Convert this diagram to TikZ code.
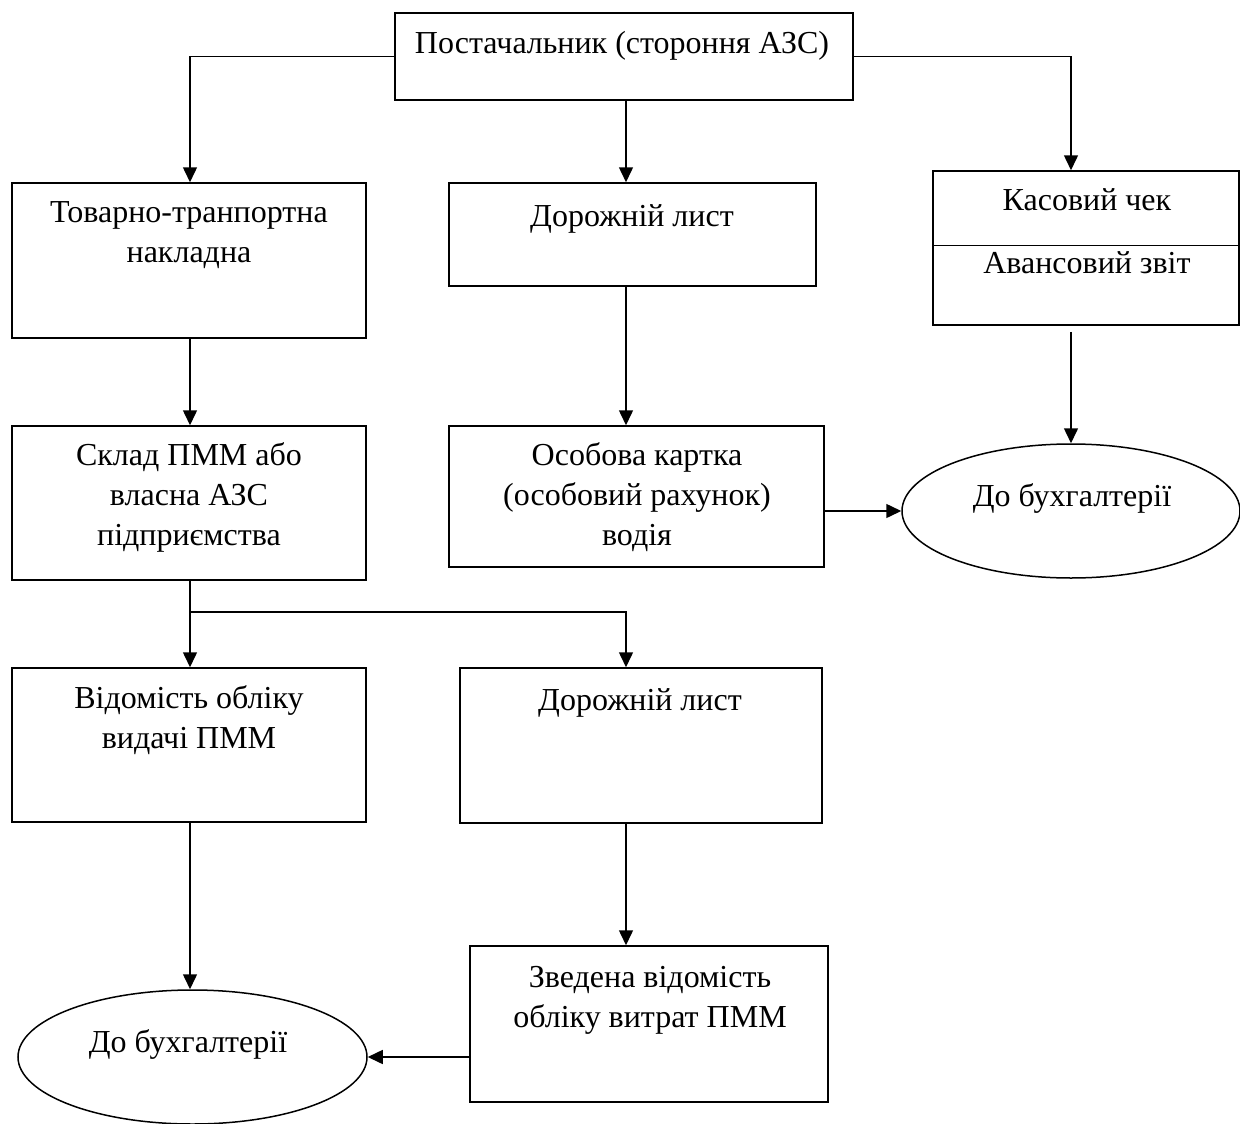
\documentclass[tikz,border=0pt]{standalone}
\usepackage{fontspec}
\setmainfont{Liberation Serif}
\usetikzlibrary{shapes.geometric,arrows.meta,calc}
\newcommand\diagfont{\fontsize{32pt}{40pt}\selectfont}
\tikzset{
  boxnode/.style={draw, line width=1.5pt, inner sep=0pt},
  ovalnode/.style={draw, ellipse, line width=1.5pt, inner sep=0pt},
  txt/.style={font=\diagfont, align=center, inner sep=0pt, anchor=north},
  arr/.style={line width=1.5pt, -{Triangle[length=15pt,width=14pt]}},
  plain/.style={line width=1.5pt}
}
\begin{document}
\begin{tikzpicture}[x=1pt,y=-1pt]
\useasboundingbox (0,0) rectangle (1240,1124);
% boxes
\node[boxnode, minimum width=458pt, minimum height=87pt] (top) at (624,56.5) {};
\node[boxnode, minimum width=354pt, minimum height=155pt] (ttn) at (189,260.5) {};
\node[boxnode, minimum width=367pt, minimum height=103pt] (dl1) at (632.5,234.5) {};
\node[boxnode, minimum width=306pt, minimum height=154pt] (kas) at (1086,248) {};
\node[boxnode, minimum width=354pt, minimum height=154pt] (sklad) at (189,503) {};
\node[boxnode, minimum width=375pt, minimum height=141pt] (osob) at (636.5,496.5) {};
\node[boxnode, minimum width=354pt, minimum height=154pt] (vid) at (189,745) {};
\node[boxnode, minimum width=362pt, minimum height=155pt] (dl2) at (641,745.5) {};
\node[boxnode, minimum width=358pt, minimum height=156pt] (zv) at (649,1024) {};
\node[ovalnode, minimum width=338pt, minimum height=134pt] (e1) at (1071,511) {};
\node[ovalnode, minimum width=349pt, minimum height=134pt] (e2) at (192.5,1057) {};
% divider in cash box
\coordinate (kdiv) at (0,245);
\draw[plain, line width=1pt] (kas.west |- kdiv) -- (kas.east |- kdiv);
% texts (first baseline = y + 28)
\node[txt] (ttop) at (622,25) {\strut Постачальник (стороння АЗС)};
\node[txt] (tttn) at (189,194) {\strut Товарно-транпортна\\накладна};
\node[txt] (tdl1) at (632,198) {\strut Дорожній лист};
\node[txt] (tkas1) at (1087,182) {\strut Касовий чек};
\node[txt] (tkas2) at (1087,245) {\strut Авансовий звіт};
\node[txt] (tsklad) at (189,437) {\strut Склад ПММ або\\власна АЗС\\підприємства};
\node[txt] (tosob) at (637,437) {\strut Особова картка\\(особовий рахунок)\\водія};
\node[txt] (tvid) at (189,680) {\strut Відомість обліку\\видачі ПММ};
\node[txt] (tdl2) at (640,682) {\strut Дорожній лист};
\node[txt] (tzv) at (650,959) {\strut Зведена відомість\\обліку витрат ПММ};
\node[txt] (te1) at (1072,478) {\strut До бухгалтерії};
\node[txt] (te2) at (188,1024) {\strut До бухгалтерії};
% connector columns
\coordinate (cL) at (190,0);
\coordinate (cM) at (626,0);
\coordinate (cR) at (1071,0);
\coordinate (j) at (190,612);
% connectors
\draw[arr] (top.west) -| (ttn.north -| cL);
\draw[arr] (top.east) -| (kas.north -| cR);
\draw[arr] (top.south -| cM) -- (dl1.north -| cM);
\draw[arr] (ttn.south -| cL) -- (sklad.north -| cL);
\draw[arr] (dl1.south -| cM) -- (osob.north -| cM);
\draw[arr] ($(kas.south -| cR)+(0,6)$) -- (e1.north);
\draw[arr] (osob.east |- e1.west) -- (e1.west);
\draw[plain] (sklad.south -| cL) -- (j);
\draw[arr] (j) -- (vid.north -| cL);
\draw[arr] (j) -| (dl2.north -| cM);
\draw[arr] (vid.south -| cL) -- (e2.north -| cL);
\draw[arr] (dl2.south -| cM) -- (zv.north -| cM);
\draw[arr] (zv.west |- e2.east) -- (e2.east);
\end{tikzpicture}
\end{document}
